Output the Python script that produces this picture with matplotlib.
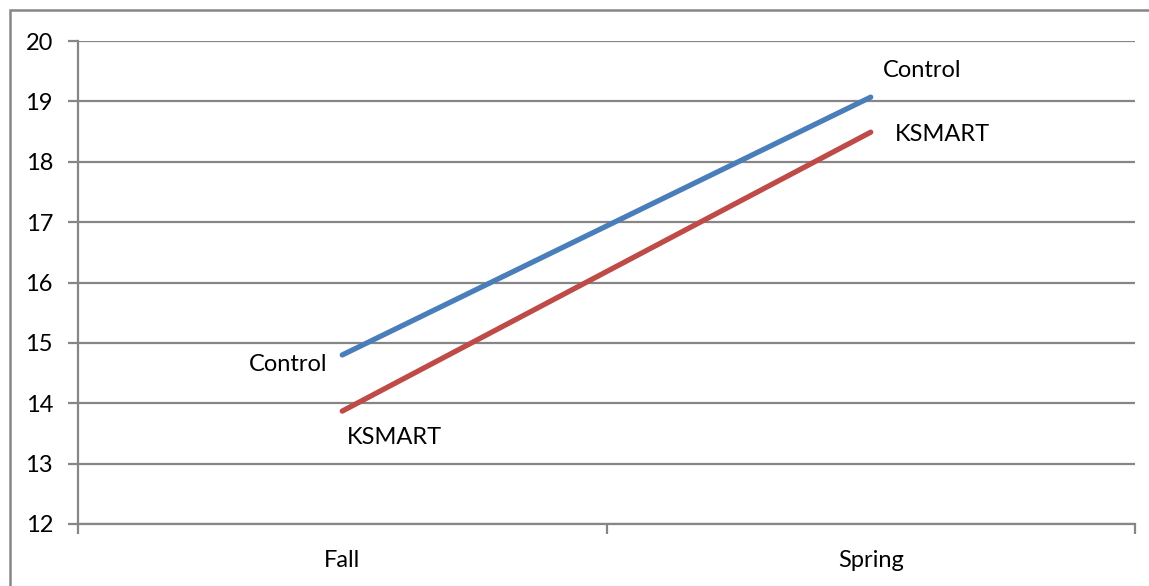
import matplotlib
matplotlib.use("Agg")
import matplotlib.pyplot as plt
from matplotlib.patches import Rectangle

# data
categories = ["Fall", "Spring"]
control = [14.8, 19.07]
ksmart = [13.87, 18.49]
y_ticks = [12, 13, 14, 15, 16, 17, 18, 19, 20]

W, H = 1149, 586
plt.rcParams['font.family'] = ['Lato', 'DejaVu Sans']

fig = plt.figure(figsize=(W / 100, H / 100), dpi=100)
ax = fig.add_axes([78 / W, (H - 524) / H, (1135 - 78) / W, (524 - 41) / H])

grid_col = "#868686"
x = list(range(len(categories)))

ax.plot(x, control, color="#4A7EBB", lw=3.8, solid_capstyle="round", zorder=3)
ax.plot(x, ksmart, color="#BE4B48", lw=3.8, solid_capstyle="round", zorder=3)

# point labels (offsets in pixels)
fs = 17
ax.annotate("Control", (x[0], control[0]), xytext=(-15, -10), textcoords="offset pixels",
            ha="right", va="center", fontsize=fs)
ax.annotate("KSMART", (x[0], ksmart[0]), xytext=(5, -26), textcoords="offset pixels",
            ha="left", va="center", fontsize=fs)
ax.annotate("Control", (x[1], control[1]), xytext=(12, 27), textcoords="offset pixels",
            ha="left", va="center", fontsize=fs)
ax.annotate("KSMART", (x[1], ksmart[1]), xytext=(24, -2), textcoords="offset pixels",
            ha="left", va="center", fontsize=fs)

ax.set_xlim(-0.5, 1.5)
ax.set_ylim(12, 20)
ax.set_yticks(y_ticks)
ax.set_xticks(x)
ax.set_xticklabels(categories)
ax.set_xticks([-0.5, 0.5, 1.5], minor=True)
ax.yaxis.grid(True, color=grid_col, lw=1.6)
ax.set_axisbelow(True)

for s in ["top", "right"]:
    ax.spines[s].set_visible(False)
for s in ["left", "bottom"]:
    ax.spines[s].set_color(grid_col)
    ax.spines[s].set_linewidth(1.6)

ax.tick_params(axis="y", length=7, width=1.6, color=grid_col, labelsize=fs, pad=11)
ax.tick_params(axis="x", which="major", length=0, labelsize=fs, pad=19)
ax.tick_params(axis="x", which="minor", length=7, width=1.6, color=grid_col)

# outer chart frame
fig.add_artist(Rectangle((10 / W, -0.1), 1.2, (H - 10) / H + 0.1, transform=fig.transFigure,
                         fill=False, edgecolor=grid_col, lw=1.8))

fig.savefig("out.png", dpi=100)
